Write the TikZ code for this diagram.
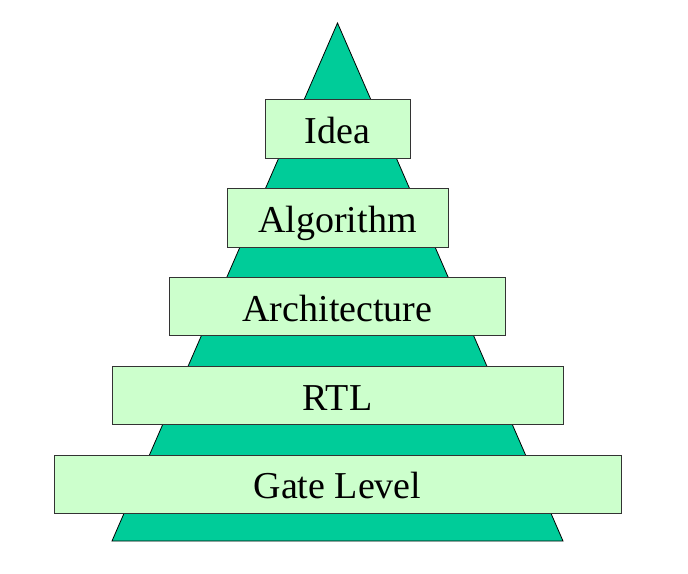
\documentclass[tikz,border=0pt]{standalone}
\usepackage{fontspec}
\setmainfont{Liberation Serif}
\usetikzlibrary{positioning}

\definecolor{pyramidgreen}{HTML}{00CC99}
\definecolor{levelgreen}{HTML}{CCFFCC}

\tikzset{
    level/.style={draw=black!80, fill=levelgreen, minimum height=58.5pt,
        inner sep=0pt, text height=30pt, text depth=0pt,
        font=\fontsize{38}{40}\selectfont},
    pyramid/.style={draw=black, fill=pyramidgreen, line width=0.8pt}
}

\begin{document}
\begin{tikzpicture}[x=1pt,y=1pt,node distance=88.8pt,on grid]
    \useasboundingbox (0,0) rectangle (688,573);
    \coordinate (apex) at (337.5,550);
    \coordinate (baseL) at (112,32);
    \coordinate (baseR) at (563,32);
    \draw[pyramid] (apex) -- (baseR) -- (baseL) -- cycle;
    \node[level, minimum width=145pt] (idea) at (337.5,444.2) {Idea};
    \node[level, minimum width=221pt] (algo) [below=of idea] {Algorithm};
    \node[level, minimum width=336pt] (arch) [below=of algo] {Architecture};
    \node[level, minimum width=451pt] (rtl) [below=of arch] {RTL};
    \node[level, minimum width=567pt] (gate) [below=of rtl] {Gate Level};
\end{tikzpicture}
\end{document}
